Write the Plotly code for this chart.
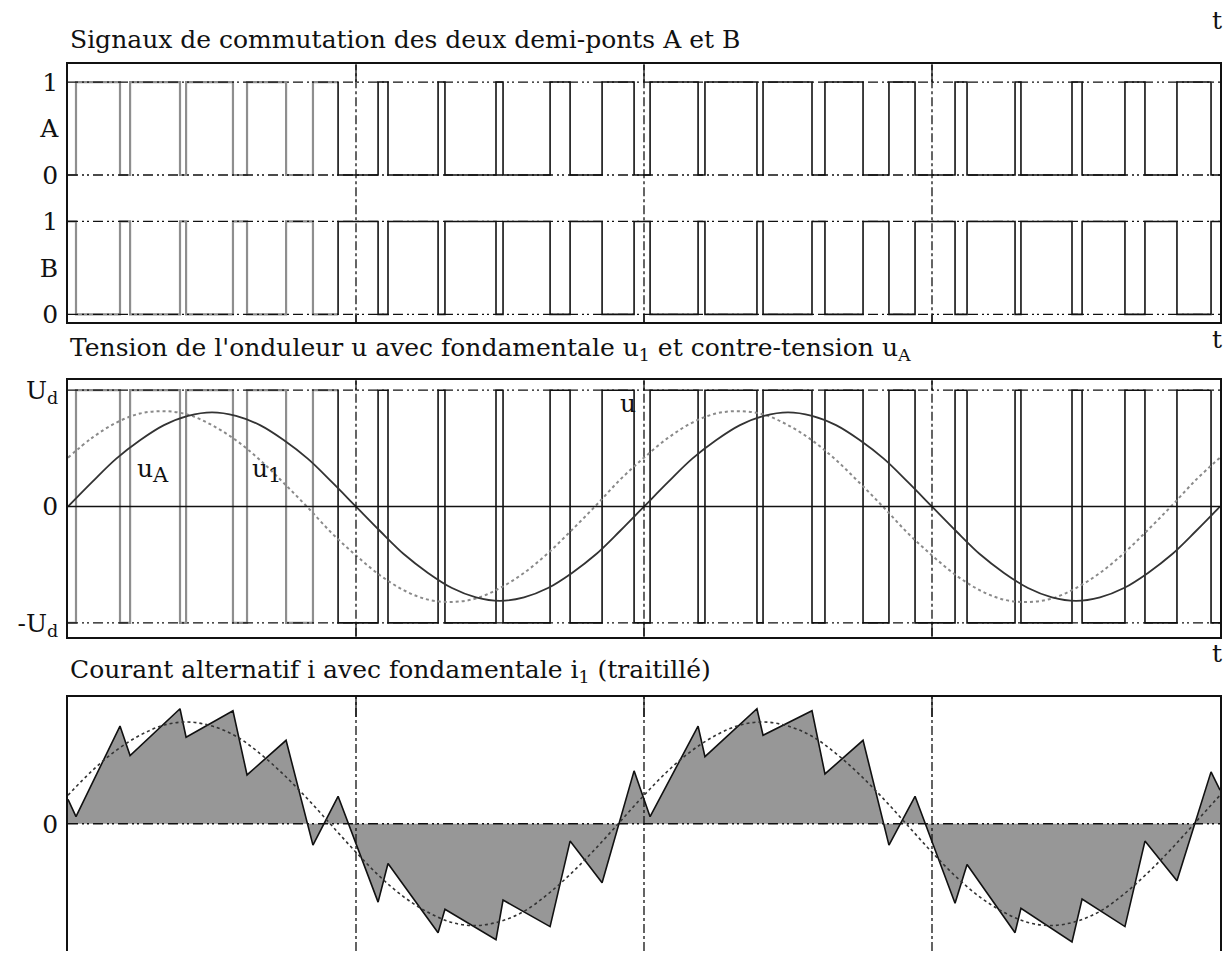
import plotly.graph_objects as go

# ---------------- data ----------------
# switching instants of half-bridge A, electrical degrees; A starts at 0, B = not A
a_edges = [5.0, 32.5, 38.8, 70.0, 73.8, 103.1, 111.9, 136.3, 153.1, 168.8,
           193.8, 200.0, 231.3, 235.6, 267.5, 271.9, 301.3, 313.8, 333.8, 353.8,
           363.8, 393.8, 398.1, 430.6, 434.4, 465.0, 473.1, 496.9, 513.1, 529.4,
           554.4, 561.9, 591.9, 595.6, 627.5, 633.8, 660.6, 673.1, 693.1, 714.4]
a_start = 0
t_start = 0
t_end = 720

# current i at t_start, at every switching instant, and at t_end
i_vals = [0.24, 0.07, 0.96, 0.67, 1.13, 0.85, 1.11, 0.48, 0.82, -0.21, 0.27,
          -0.77, -0.39, -1.07, -0.84, -1.14, -0.75, -1.01, -0.17, -0.58, 0.52,
          0.07, 0.96, 0.66, 1.13, 0.87, 1.11, 0.49, 0.82, -0.21, 0.27,
          -0.78, -0.40, -1.07, -0.83, -1.16, -0.74, -1.01, -0.17, -0.56, 0.51, 0.33]

# fundamentals sampled every 15 degrees
theta_f = [0, 15, 30, 45, 60, 75, 90, 105, 120, 135, 150, 165, 180, 195, 210, 225,
           240, 255, 270, 285, 300, 315, 330, 345, 360, 375, 390, 405, 420, 435,
           450, 465, 480, 495, 510, 525, 540, 555, 570, 585, 600, 615, 630, 645,
           660, 675, 690, 705, 720]
uA_vals = [0.00, 0.21, 0.41, 0.57, 0.70, 0.78, 0.81, 0.78, 0.70, 0.57, 0.41, 0.21,
           0.00, -0.21, -0.41, -0.57, -0.70, -0.78, -0.81, -0.78, -0.70, -0.57, -0.41, -0.21,
           0.00, 0.21, 0.41, 0.57, 0.70, 0.78, 0.81, 0.78, 0.70, 0.57, 0.41, 0.21,
           0.00, -0.21, -0.41, -0.57, -0.70, -0.78, -0.81, -0.78, -0.70, -0.57, -0.41, -0.21,
           0.00]
u1_vals = [0.42, 0.59, 0.72, 0.80, 0.82, 0.79, 0.70, 0.57, 0.40, 0.20, -0.01, -0.23,
           -0.42, -0.59, -0.72, -0.80, -0.82, -0.79, -0.70, -0.57, -0.40, -0.20, 0.01, 0.23,
           0.42, 0.59, 0.72, 0.80, 0.82, 0.79, 0.70, 0.57, 0.40, 0.20, -0.01, -0.23,
           -0.42, -0.59, -0.72, -0.80, -0.82, -0.79, -0.70, -0.57, -0.40, -0.20, 0.01, 0.23,
           0.42]
i1_vals = [0.28, 0.52, 0.72, 0.87, 0.97, 1.00, 0.96, 0.86, 0.69, 0.48, 0.24, -0.02,
           -0.28, -0.52, -0.72, -0.87, -0.97, -1.00, -0.96, -0.86, -0.69, -0.48, -0.24, 0.02,
           0.28, 0.52, 0.72, 0.87, 0.97, 1.00, 0.96, 0.86, 0.69, 0.48, 0.24, -0.02,
           -0.28, -0.52, -0.72, -0.87, -0.97, -1.00, -0.96, -0.86, -0.69, -0.48, -0.24, 0.02,
           0.28]

top_ticks = [0, 0.5, 1, 1.5, 2, 2.5]
top_ticktext = ["0", "B", "1", "0", "A", "1"]
mid_ticks = [-1, 0, 1]
mid_ticktext = ["-U<sub>d</sub>", "0", "U<sub>d</sub>"]
bot_ticks = [0]
bot_ticktext = ["0"]
vgrid = [180, 360, 540]

split_deg = 168.8   # early part of the switching curves is rendered lighter

# ---------------- helpers ----------------
def step_xy(edges, start, t0, t1):
    xs, ys, v = [t0], [start], start
    for e in edges:
        xs += [e, e]
        ys += [v, 1 - v]
        v = 1 - v
    xs.append(t1)
    ys.append(v)
    return xs, ys

sx, sa = step_xy(a_edges, a_start, t_start, t_end)
k = sx.index(split_deg)

INK = "#111111"
GREY = "#8e8e8e"
FONT = "DejaVu Serif"

fig = go.Figure()

def add_step(xs, ys, xa, ya):
    fig.add_trace(go.Scatter(x=xs[:k + 1], y=ys[:k + 1], mode="lines",
                             line=dict(color=GREY, width=2.2),
                             xaxis=xa, yaxis=ya, hoverinfo="skip"))
    fig.add_trace(go.Scatter(x=xs[k:], y=ys[k:], mode="lines",
                             line=dict(color=INK, width=1.6),
                             xaxis=xa, yaxis=ya, hoverinfo="skip"))

# top panel: A (offset 1.5) and B = 1 - A
add_step(sx, [1.5 + a for a in sa], "x", "y")
add_step(sx, [1 - a for a in sa], "x", "y")

# middle panel: u = Ud (2A-1)
add_step(sx, [2 * a - 1 for a in sa], "x2", "y2")
fig.add_trace(go.Scatter(x=theta_f, y=u1_vals, mode="lines", line_shape="spline",
                         line=dict(color="#8a8a8a", width=2, dash="dot"),
                         xaxis="x2", yaxis="y2", hoverinfo="skip"))
fig.add_trace(go.Scatter(x=theta_f, y=uA_vals, mode="lines", line_shape="spline",
                         line=dict(color="#333333", width=1.8),
                         xaxis="x2", yaxis="y2", hoverinfo="skip"))

# bottom panel: current
i_x = [t_start] + a_edges + [t_end]
fig.add_trace(go.Scatter(x=i_x, y=i_vals, mode="lines", fill="tozeroy",
                         fillcolor="#979797", line=dict(color=INK, width=1.6),
                         xaxis="x3", yaxis="y3", hoverinfo="skip"))
fig.add_trace(go.Scatter(x=theta_f, y=i1_vals, mode="lines", line_shape="spline",
                         line=dict(color="#333333", width=1.6, dash="dot"),
                         xaxis="x3", yaxis="y3", hoverinfo="skip"))

# ---------------- layout ----------------
W, H = 1226, 958
def px(x):
    return x / W
def py(y):
    return 1 - y / H

xdom = [px(68), px(1220)]
common_x = dict(range=[t_start, t_end], showticklabels=False, showgrid=False,
                zeroline=False, ticks="", showline=True, linecolor=INK, linewidth=1.6)
common_y = dict(showgrid=False, zeroline=False, ticks="", showline=True, mirror=True,
                linecolor=INK, linewidth=1.6, ticklabelstandoff=3,
                tickfont=dict(family=FONT, size=25, color=INK))

fig.update_layout(
    width=W, height=H, margin=dict(l=0, r=0, t=0, b=0),
    paper_bgcolor="white", plot_bgcolor="white", showlegend=False,
    font=dict(family=FONT, color=INK),
    xaxis=dict(domain=xdom, anchor="y", mirror=True, **common_x),
    xaxis2=dict(domain=xdom, anchor="y2", mirror=True, **common_x),
    xaxis3=dict(domain=xdom, anchor="y3", side="top", mirror=False, **common_x),
    yaxis=dict(domain=[py(322), py(61)], anchor="x", range=[-0.085, 2.691],
               tickvals=top_ticks, ticktext=top_ticktext, **common_y),
    yaxis2=dict(domain=[py(640), py(380.7)], anchor="x2", range=[-1.118, 1.085],
                tickvals=mid_ticks, ticktext=mid_ticktext, **common_y),
    yaxis3=dict(domain=[0, py(700.7)], anchor="x3", range=[-1.25, 1.249],
                tickvals=bot_ticks, ticktext=bot_ticktext, **common_y),
)

GRID_DASH = "10px,4px,2px,3px,2px,4px"
shapes = []
def hline(y, xr, yr, dash=GRID_DASH, width=1.3):
    shapes.append(dict(type="line", xref=xr, yref=yr, x0=t_start, x1=t_end, y0=y, y1=y,
                       line=dict(color=INK, width=width, dash=dash), layer="above"))
def vline(x, xr, yr, y0, y1, dash="dashdot", width=1.3):
    shapes.append(dict(type="line", xref=xr, yref=yr, x0=x, x1=x, y0=y0, y1=y1,
                       line=dict(color=INK, width=width, dash=dash), layer="above"))

for yv in [0, 1, 1.5, 2.5]:
    hline(yv, "x", "y")
hline(1, "x2", "y2")
hline(-1, "x2", "y2")
hline(0, "x2", "y2", dash="solid", width=1.4)
hline(0, "x3", "y3")

for xv in vgrid:
    vline(xv, "x", "y", -0.085, 2.691)
    vline(xv, "x", "y", 2.5, 2.691, dash="solid")
    vline(xv, "x", "y", -0.085, 0, dash="solid")
    vline(xv, "x2", "y2", -1.118, 1.085)
    vline(xv, "x2", "y2", 1.0, 1.085, dash="solid")
    vline(xv, "x2", "y2", -1.118, -1.0, dash="solid")
    vline(xv, "x3", "y3", -1.25, 1.249)
    vline(xv, "x3", "y3", 1.05, 1.249, dash="solid")
fig.update_layout(shapes=shapes)

ann = []
def text(x, y, s, xref="paper", yref="paper", xanchor="left", yanchor="top", size=25):
    ann.append(dict(x=x, y=y, xref=xref, yref=yref, text=s, showarrow=False,
                    xanchor=xanchor, yanchor=yanchor,
                    font=dict(family=FONT, size=size, color=INK)))

text(px(68), py(19), "Signaux de commutation des deux demi-ponts A et B")
text(px(68), py(331),
     "Tension de l'onduleur u avec fondamentale u<sub>1</sub> et contre-tension u<sub>A</sub>")
text(px(68), py(657), "Courant alternatif i avec fondamentale i<sub>1</sub> (traitillé)")
for yy in [17, 339, 657]:
    text(px(1224), py(yy), "t", xanchor="right", yanchor="middle")

BIGSUB = "<span style='font-size:21px'>%s</span>"
text(42.0, 0.47, "u<sub>" + BIGSUB % "A" + "</sub>", xref="x2", yref="y2")
text(114.0, 0.47, "u<sub>" + BIGSUB % "1" + "</sub>", xref="x2", yref="y2")
text(343.7, 1.03, "u", xref="x2", yref="y2")
fig.update_layout(annotations=ann)

fig.write_html("out.html",
               config={"displayModeBar": False},
               post_script="document.body.style.margin='0';"
                           "document.body.style.overflow='hidden';")
